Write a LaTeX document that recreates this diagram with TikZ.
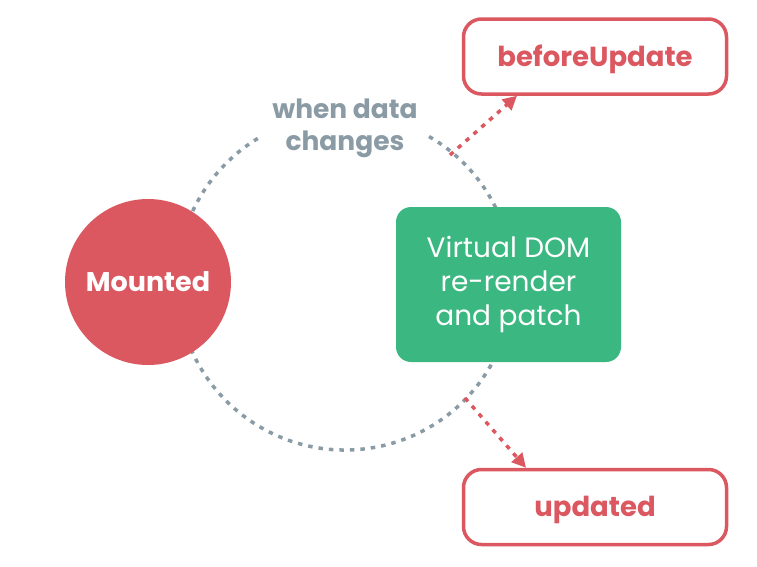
\documentclass[tikz,border=0pt]{standalone}
\usepackage{fontspec}
\setmainfont{Poppins}
\usepackage{tikz}
\usetikzlibrary{arrows.meta}

\definecolor{vuered}{RGB}{219,88,96}
\definecolor{vuegreen}{RGB}{59,184,129}
\definecolor{vuegray}{RGB}{138,155,165}

\begin{document}
\begin{tikzpicture}[
    x=1pt, y=1pt,
    hook/.style={draw=vuered, line width=3.5pt, rounded corners=18pt, fill=white, minimum width=263pt, minimum height=75pt, text height=22pt, text depth=3pt, text=vuered, font=\fontsize{27.5}{32}\selectfont\bfseries},
    loopline/.style={draw=vuegray, line width=3.5pt, dash pattern=on 4.5pt off 6pt},
    arr/.style={draw=vuered, line width=3.5pt, dash pattern=on 4.5pt off 6pt, -{Triangle[length=14pt, width=14pt]}}
]
\useasboundingbox (0,0) rectangle (757,-566);

% Update loop
\coordinate (ctr) at (345,-282);
\draw[loopline] (ctr) ++(60:168) arc[start angle=60, end angle=-240, radius=168];
\node[text=vuegray, align=center, font=\fontsize{26.5}{32}\selectfont\bfseries] (when) at (345,-128) {when data\\changes};

% Mounted
\node[circle, fill=vuered, minimum size=166pt, text=white, font=\fontsize{27}{30}\selectfont\bfseries] (mounted) at (148,-282) {Mounted};

% Virtual DOM
\node[fill=vuegreen, rounded corners=15pt, minimum width=225pt, minimum height=155pt, text=white, align=center, font=\fontsize{28}{34}\selectfont] (vdom) at (508.5,-284.5) {Virtual DOM\\re-render\\and patch};

% Hooks
\node[hook] (before) at (595,-56.5) {beforeUpdate};
\node[hook] (updated) at (595,-507) {updated};

% Arrows to the hooks
\coordinate (beforestart) at (450,-155);
\coordinate (updatedstart) at (465,-398);
\draw[arr] (beforestart) -- (before.south west -| 517,0);
\draw[arr] (updatedstart) -- (updated.north west -| 526,0);
\end{tikzpicture}
\end{document}
